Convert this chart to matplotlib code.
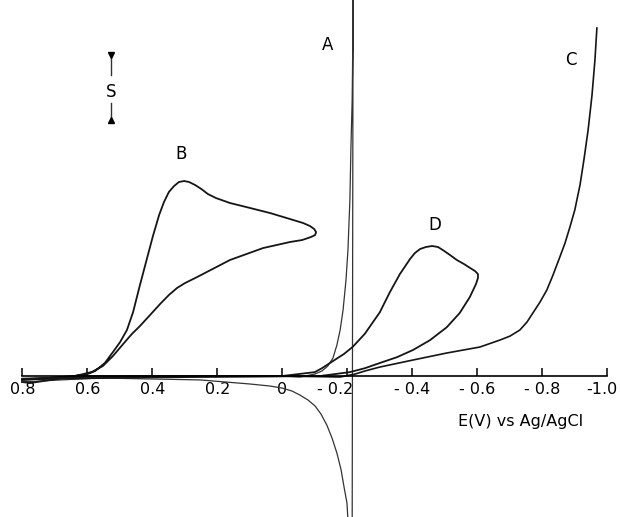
import matplotlib
matplotlib.use('Agg')
import matplotlib.pyplot as plt
from matplotlib.transforms import ScaledTranslation

# potential (V vs Ag/AgCl) and current (units of the S bar)

# curve A: forward sweep, off-scale spike, return with the reduction dip
a_E = [0.80, 0.60, 0.40, 0.20, 0.0, -0.054, -0.10, -0.122, -0.14, -0.156, -0.168,
       -0.178, -0.187, -0.196, -0.202, -0.208, -0.211, -0.215, -0.218, -0.218,
       -0.215, -0.203,
       -0.202, -0.199, -0.190, -0.181, -0.168, -0.153, -0.137, -0.119, -0.101,
       -0.079, -0.054, -0.030, 0.001, 0.038, 0.099, 0.253, 0.561, 0.80]
a_I = [-0.06, -0.02, -0.01, 0.0, 0.0, -0.015, 0.03, 0.077, 0.154, 0.277, 0.477,
       0.708, 1.015, 1.477, 1.938, 2.708, 3.477, 4.246, 5.554, 6.30,
       -2.40, -2.40,
       -2.215, -1.954, -1.708, -1.446, -1.185, -0.954, -0.754, -0.585, -0.462,
       -0.369, -0.292, -0.231, -0.185, -0.154, -0.123, -0.06, -0.03, -0.09]

# curve B: closed loop between 0.8 and -0.1 V
b_E = [0.801, 0.684, 0.607, 0.576, 0.546, 0.521, 0.499, 0.478, 0.459, 0.438, 0.416,
       0.398, 0.379, 0.364, 0.349, 0.333, 0.318, 0.302, 0.287, 0.268, 0.249,
       0.229, 0.204, 0.161, 0.099, 0.038, -0.024, -0.064, -0.085, -0.098, -0.104,
       -0.101, -0.088, -0.061, -0.024, 0.059, 0.161, 0.262, 0.299, 0.324, 0.349,
       0.376, 0.407, 0.438, 0.463, 0.487, 0.521, 0.552, 0.586, 0.638, 0.715,
       0.776, 0.801]
b_I = [-0.062, -0.015, 0.015, 0.077, 0.20, 0.369, 0.523, 0.708, 0.985, 1.40, 1.815,
       2.154, 2.477, 2.677, 2.831, 2.923, 2.985, 3.00, 2.985, 2.938, 2.877,
       2.80, 2.738, 2.662, 2.585, 2.508, 2.415, 2.354, 2.308, 2.262, 2.215,
       2.169, 2.138, 2.092, 2.062, 1.969, 1.785, 1.523, 1.431, 1.354, 1.246,
       1.108, 0.938, 0.769, 0.646, 0.508, 0.308, 0.154, 0.062, 0.0, -0.062,
       -0.108, -0.092]

# curve C: forward sweep only, rising to the top near -0.97 V
c_E = [0.80, 0.60, 0.30, 0.0, -0.178, -0.224, -0.254, -0.30, -0.402, -0.506, -0.608,
       -0.670, -0.701, -0.731, -0.753, -0.771, -0.793, -0.814, -0.833, -0.854,
       -0.870, -0.885, -0.900, -0.916, -0.928, -0.941, -0.953, -0.962, -0.968]
c_I = [-0.04, -0.01, 0.0, 0.0, -0.015, 0.03, 0.077, 0.138, 0.246, 0.354, 0.446,
       0.554, 0.615, 0.708, 0.831, 0.969, 1.138, 1.323, 1.554, 1.831,
       2.046, 2.292, 2.554, 2.938, 3.323, 3.785, 4.323, 4.862, 5.354]

# curve D: loop reversed at -0.6 V
d_E = [0.80, 0.60, 0.30, 0.0, -0.10, -0.122, -0.162, -0.19, -0.217, -0.254, -0.30,
       -0.331, -0.362, -0.393, -0.408, -0.424, -0.442, -0.461, -0.479, -0.494,
       -0.516, -0.537, -0.559, -0.578, -0.593, -0.602, -0.602, -0.596, -0.577,
       -0.546, -0.506, -0.454, -0.402, -0.353, -0.30, -0.254, -0.208, -0.116,
       0.10, 0.40, 0.80]
d_I = [-0.05, 0.0, 0.0, 0.0, 0.06, 0.12, 0.25, 0.34, 0.45, 0.65, 0.98,
       1.29, 1.57, 1.80, 1.892, 1.954, 1.985, 2.00, 1.985, 1.938,
       1.862, 1.785, 1.723, 1.662, 1.615, 1.569, 1.508, 1.415, 1.215,
       0.97, 0.75, 0.55, 0.40, 0.29, 0.20, 0.12, 0.06, 0.0,
       -0.01, -0.02, -0.05]

tick_vals = [0.8, 0.6, 0.4, 0.2, 0.0, -0.2, -0.4, -0.6, -0.8, -1.0]
tick_labs = ['0.8', '0.6', '0.4', '0.2', '0', '- 0.2', '- 0.4', '- 0.6', '- 0.8', '-1.0']

fig = plt.figure(figsize=(6.2, 5.17), dpi=100)
ax = fig.add_axes([0, 0, 1, 1])
ink = '#151515'

ax.plot(a_E, a_I, color='#333333', lw=0.9)
ax.plot(b_E, b_I, color=ink, lw=1.3)
ax.plot(c_E, c_I, color=ink, lw=1.2)
ax.plot(d_E, d_I, color=ink, lw=1.3)

# axes: E decreases to the right
ax.set_xlim(0.8686, -1.0391)
ax.set_ylim(-2.169, 5.785)
for s in ['top', 'right', 'left']:
    ax.spines[s].set_visible(False)
ax.spines['bottom'].set_position(('data', 0))
ax.spines['bottom'].set_bounds(-1.0, 0.8)
ax.spines['bottom'].set_linewidth(1.2)
ax.set_yticks([])
ax.set_xticks(tick_vals)
ax.set_xticklabels(tick_labs, fontsize=11.5)
ax.tick_params(axis='x', direction='in', length=6, width=1.1, pad=4, colors='black')

# the -0.2 label sits left of its tick (A line in the way), -1.0 kept inside the frame
ticks = ax.xaxis.get_major_ticks()
t = ticks[5]
t.label1.set_transform(t.label1.get_transform() + ScaledTranslation(-0.12, 0, fig.dpi_scale_trans))
t = ticks[9]
t.label1.set_transform(t.label1.get_transform() + ScaledTranslation(-0.05, 0, fig.dpi_scale_trans))

ax.text(-0.734, -0.70, 'E(V) vs Ag/AgCl', fontsize=11.5, ha='center', va='center')

# curve letters
ax.text(-0.14, 5.09, 'A', fontsize=12, ha='center', va='center')
ax.text(0.31, 3.42, 'B', fontsize=12, ha='center', va='center')
ax.text(-0.887, 4.86, 'C', fontsize=12, ha='center', va='center')
ax.text(-0.47, 2.32, 'D', fontsize=12, ha='center', va='center')

# scale bar S
ax.plot([0.528, 0.528], [4.94, 4.63], color='#333333', lw=1)
ax.plot([0.528, 0.528], [4.20, 3.94], color='#333333', lw=1)
ax.plot([0.528], [4.94], marker='v', ms=4, color='black')
ax.plot([0.528], [3.94], marker='^', ms=4, color='black')
ax.text(0.528, 4.37, 'S', fontsize=12, ha='center', va='center')

fig.savefig('out.png', dpi=100)
